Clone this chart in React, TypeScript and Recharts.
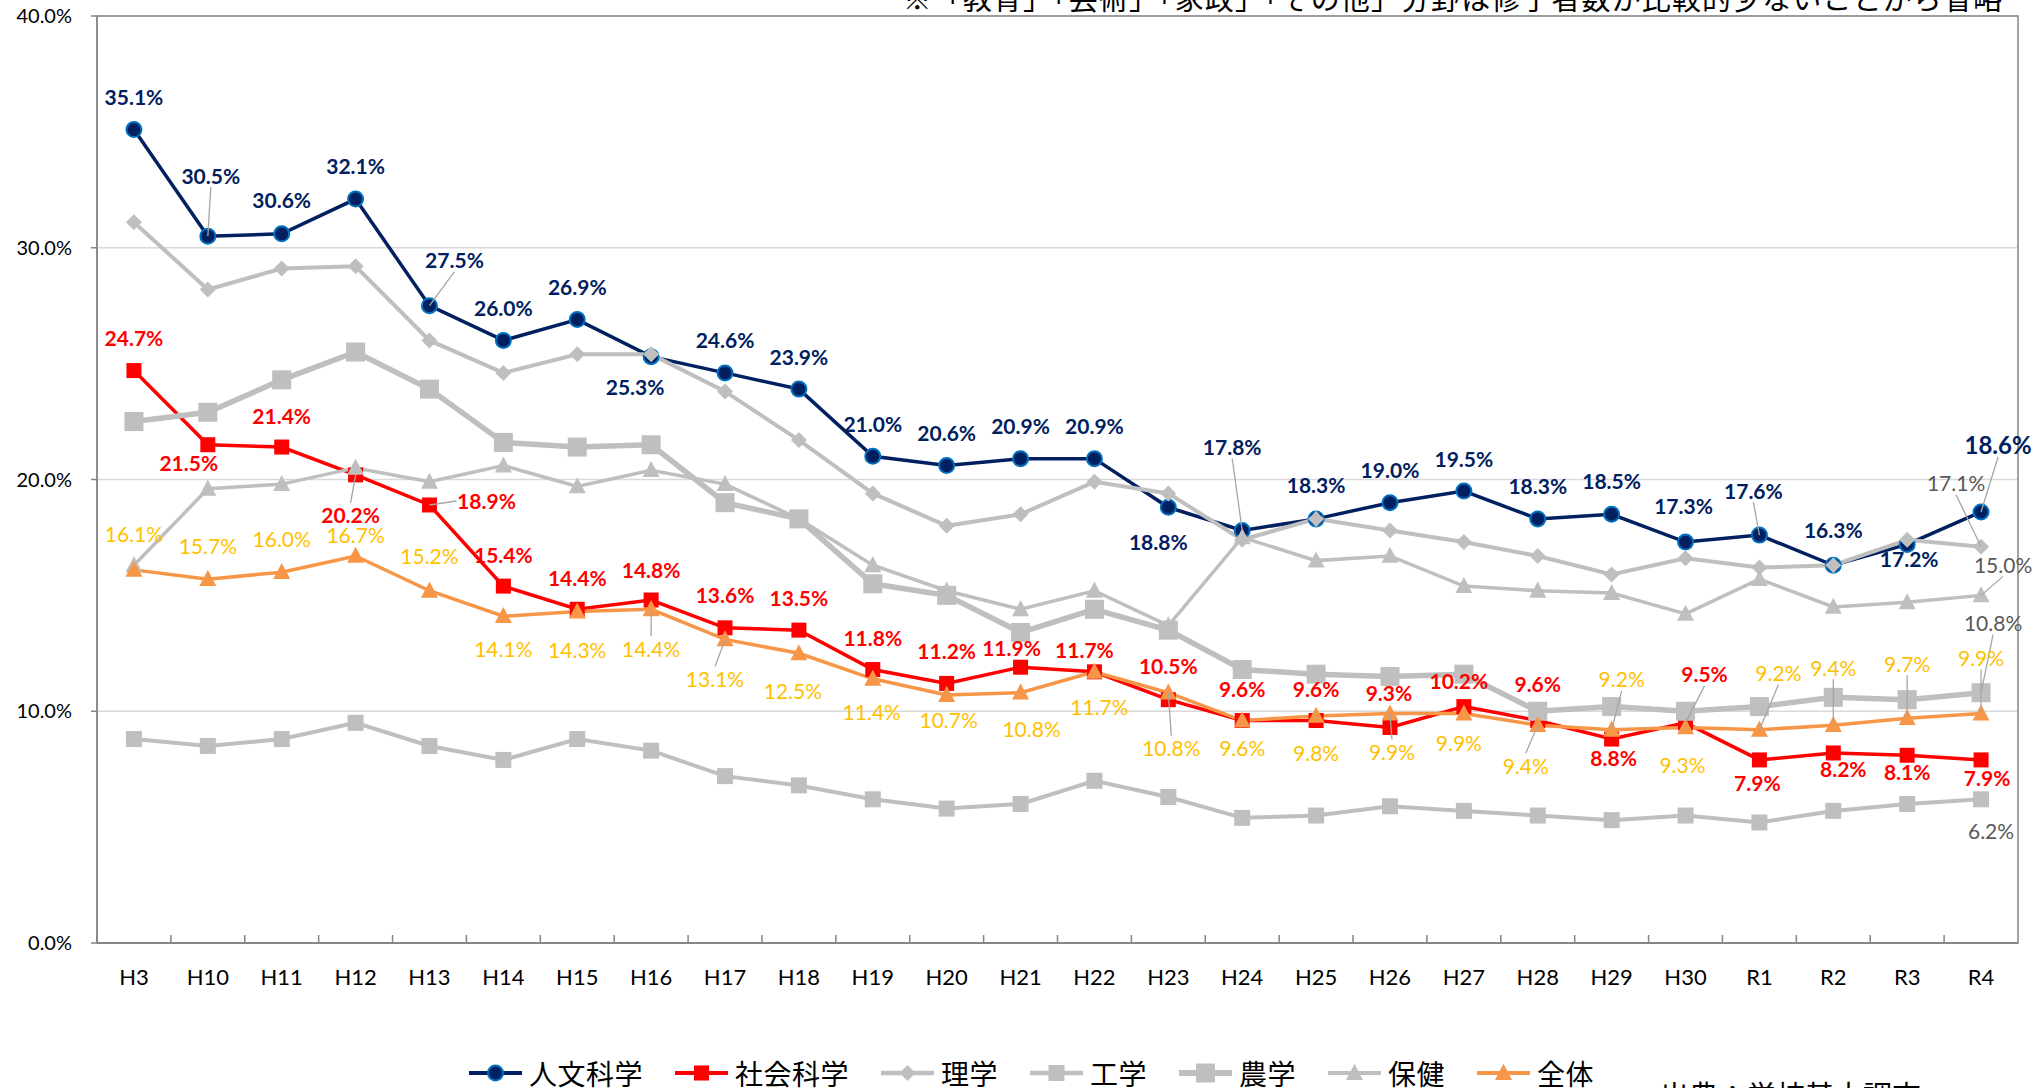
import React from 'react'
import { LineChart, Line, XAxis, YAxis, CartesianGrid, ReferenceArea } from 'recharts'

const years = ['H3', 'H10', 'H11', 'H12', 'H13', 'H14', 'H15', 'H16', 'H17', 'H18', 'H19', 'H20', 'H21', 'H22', 'H23', 'H24', 'H25', 'H26', 'H27', 'H28', 'H29', 'H30', 'R1', 'R2', 'R3', 'R4']

// 進学率 (%)
const humanities = [35.1, 30.5, 30.6, 32.1, 27.5, 26.0, 26.9, 25.3, 24.6, 23.9, 21.0, 20.6, 20.9, 20.9, 18.8, 17.8, 18.3, 19.0, 19.5, 18.3, 18.5, 17.3, 17.6, 16.3, 17.2, 18.6]
const social = [24.7, 21.5, 21.4, 20.2, 18.9, 15.4, 14.4, 14.8, 13.6, 13.5, 11.8, 11.2, 11.9, 11.7, 10.5, 9.6, 9.6, 9.3, 10.2, 9.6, 8.8, 9.5, 7.9, 8.2, 8.1, 7.9]
const science = [31.1, 28.2, 29.1, 29.2, 26.0, 24.6, 25.4, 25.4, 23.8, 21.7, 19.4, 18.0, 18.5, 19.9, 19.4, 17.4, 18.3, 17.8, 17.3, 16.7, 15.9, 16.6, 16.2, 16.3, 17.4, 17.1]
const engineering = [8.8, 8.5, 8.8, 9.5, 8.5, 7.9, 8.8, 8.3, 7.2, 6.8, 6.2, 5.8, 6.0, 7.0, 6.3, 5.4, 5.5, 5.9, 5.7, 5.5, 5.3, 5.5, 5.2, 5.7, 6.0, 6.2]
const agriculture = [22.5, 22.9, 24.3, 25.5, 23.9, 21.6, 21.4, 21.5, 19.0, 18.3, 15.5, 15.0, 13.4, 14.4, 13.5, 11.8, 11.6, 11.5, 11.6, 10.0, 10.2, 10.0, 10.2, 10.6, 10.5, 10.8]
const health = [16.3, 19.6, 19.8, 20.5, 19.9, 20.6, 19.7, 20.4, 19.8, 18.3, 16.3, 15.2, 14.4, 15.2, 13.7, 17.5, 16.5, 16.7, 15.4, 15.2, 15.1, 14.2, 15.7, 14.5, 14.7, 15.0]
const overall = [16.1, 15.7, 16.0, 16.7, 15.2, 14.1, 14.3, 14.4, 13.1, 12.5, 11.4, 10.7, 10.8, 11.7, 10.8, 9.6, 9.8, 9.9, 9.9, 9.4, 9.2, 9.3, 9.2, 9.4, 9.7, 9.9]

const yTicks = [0, 10, 20, 30, 40]

const note = '※「教育」「芸術」「家政」「その他」分野は修了者数が比較的少ないことから省略'
const source = '出典：学校基本調査'

const data = years.map((year, i) => ({
  year,
  hum: humanities[i],
  soc: social[i],
  sci: science[i],
  eng: engineering[i],
  agr: agriculture[i],
  hea: health[i],
  all: overall[i],
}))

// label placement (dx, dy from the point, px) - copied by eye from the excel chart
type Off = [number, number] | null
const humLabelPos: Off[] = [[0, -33], [3, -61], [0, -34], [0, -34], [25, -46], [0, -33], [0, -33], [-16, 30], [0, -33], [0, -33], [0, -33], [0, -33], [0, -33], [0, -33], [-10, 34], [-10, -84], [0, -34], [0, -33], [0, -33], [0, -33], [0, -34], [-2, -37], [-6, -45], [0, -36], [2, 14], [17, -67]]
const socLabelPos: Off[] = [[0, -33], [-19, 18], [0, -32], [-5, 40], [57, -4], [0, -32], [0, -32], [0, -31], [0, -33], [0, -33], [0, -32], [0, -33], [-9, -20], [-10, -22], [0, -34], [0, -32], [0, -32], [-1, -35], [-5, -26], [0, -37], [2, 18], [19, -49], [-2, 23], [10, 16], [0, 16], [6, 18]]
const allLabelPos: Off[] = [[0, -36], [0, -34], [0, -34], [0, -21], [0, -35], [0, 32], [0, 38], [0, 39], [-10, 39], [-6, 37], [-1, 33], [2, 24], [11, 36], [5, 35], [3, 55], [0, 27], [0, 37], [2, 38], [-5, 29], [-12, 40], [10, -51], [-3, 37], [19, -57], [0, -58], [0, -55], [0, -56]]
const lastOnly = (o: [number, number]): Off[] => years.map((_, i) => (i === years.length - 1 ? o : null))

const NUM_FONT = 'Lato, "Liberation Sans", sans-serif'
const JP_FONT = '"Noto Sans CJK JP", sans-serif'
const GREY = '#BFBFBF'
const AXIS = '#868686'

const W = 2044
const H = 1088
const PLOT_LEFT = 97
const PLOT_RIGHT = 2018
const PLOT_TOP = 16
const PLOT_BOTTOM = 943
const BAND = (PLOT_RIGHT - PLOT_LEFT) / years.length

type Shape = 'circle' | 'square' | 'diamond' | 'triangle'

function MarkerShape({ shape, cx, cy, size, fill, stroke }: { shape: Shape; cx: number; cy: number; size: number; fill: string; stroke?: string }) {
  if (shape === 'circle') {
    return <circle cx={cx} cy={cy} r={size / 2} fill={fill} stroke={stroke} strokeWidth={stroke ? 2 : 0} />
  }
  if (shape === 'square') {
    return <rect x={cx - size / 2} y={cy - size / 2} width={size} height={size} fill={fill} />
  }
  if (shape === 'diamond') {
    const s = size / 2
    return <polygon points={`${cx},${cy - s} ${cx + s},${cy} ${cx},${cy + s} ${cx - s},${cy}`} fill={fill} />
  }
  const w = size
  const h = size * 0.9
  return <polygon points={`${cx},${cy - h * 0.6} ${cx + w / 2},${cy + h * 0.45} ${cx - w / 2},${cy + h * 0.45}`} fill={fill} />
}

const marker = (shape: Shape, size: number, fill: string, stroke?: string) => (p: any) => {
  if (p.cx == null || p.cy == null) return <g key={`m-${p.index}`} />
  return <MarkerShape key={`m-${p.index}`} shape={shape} cx={p.cx} cy={p.cy} size={size} fill={fill} stroke={stroke} />
}

// data labels drawn as "dots" of an invisible line so they sit above every series
const labelDot = (offsets: Off[], color: string, weight: number, size: number, lastSize?: number) => (p: any) => {
  const off = offsets[p.index]
  if (!off || p.cx == null || p.cy == null) return <g key={`l-${p.index}`} />
  const [dx, dy] = off
  const lx = p.cx + dx
  const ly = p.cy + dy
  const leader = Math.hypot(dx, dy) > 38
  let x1 = lx
  let y1 = ly + (dy < 0 ? 12 : -12)
  if (Math.abs(dy) < 20) {
    x1 = lx - Math.sign(dx) * 30
    y1 = ly
  }
  const fs = lastSize && p.index === years.length - 1 ? lastSize : size
  return (
    <g key={`l-${p.index}`}>
      {leader && <line x1={x1} y1={y1} x2={p.cx} y2={p.cy} stroke="#A6A6A6" strokeWidth={1.3} />}
      <text x={lx} y={ly} textAnchor="middle" dominantBaseline="central" fill={color} fontWeight={weight} fontSize={fs} fontFamily={NUM_FONT}>
        {Number(p.value).toFixed(1)}%
      </text>
    </g>
  )
}

const XTick = (p: any) => {
  const { x, payload } = p
  return (
    <g>
      <line x1={x - BAND / 2} x2={x - BAND / 2} y1={PLOT_BOTTOM} y2={PLOT_BOTTOM - 8} stroke={AXIS} strokeWidth={1.5} />
      <text x={x} y={985} textAnchor="middle" fontSize={22} fill="#000" fontFamily={NUM_FONT}>
        {payload.value}
      </text>
    </g>
  )
}

const series = [
  { key: 'hum', name: '人文科学', color: '#002060', width: 3.5, shape: 'circle' as Shape, size: 15, fill: '#002060', stroke: '#0070C0' },
  { key: 'soc', name: '社会科学', color: '#FF0000', width: 3.5, shape: 'square' as Shape, size: 15, fill: '#FF0000' },
  { key: 'sci', name: '理学', color: GREY, width: 4, shape: 'diamond' as Shape, size: 16, fill: GREY },
  { key: 'eng', name: '工学', color: GREY, width: 4, shape: 'square' as Shape, size: 16, fill: GREY },
  { key: 'agr', name: '農学', color: GREY, width: 5.5, shape: 'square' as Shape, size: 19, fill: GREY },
  { key: 'hea', name: '保健', color: GREY, width: 3.5, shape: 'triangle' as Shape, size: 17, fill: GREY },
  { key: 'all', name: '全体', color: '#F79646', width: 3.5, shape: 'triangle' as Shape, size: 17, fill: '#F79646' },
]

function LegendRow() {
  return (
    <div style={{ position: 'absolute', left: 469, top: 1054, height: 38, display: 'flex', alignItems: 'center', gap: 32 }}>
      {series.map(s => (
        <div key={s.key} style={{ display: 'flex', alignItems: 'center', gap: 7 }}>
          <svg width={53} height={30}>
            <line x1={0} x2={53} y1={15} y2={15} stroke={s.color} strokeWidth={s.width + 0.5} />
            <MarkerShape shape={s.shape} cx={26.5} cy={15} size={s.size} fill={s.fill} stroke={s.stroke} />
          </svg>
          <span style={{ fontFamily: JP_FONT, fontSize: 28, letterSpacing: 0.5, color: '#000', lineHeight: '38px' }}>{s.name}</span>
        </div>
      ))}
    </div>
  )
}

export default function App() {
  return (
    <div style={{ position: 'absolute', left: 0, top: 0, width: W, height: H, overflow: 'hidden', background: '#fff' }}>
      <LineChart width={W} height={H} data={data} margin={{ top: PLOT_TOP, right: W - PLOT_RIGHT, left: 0, bottom: H - PLOT_BOTTOM - 50 }}>
        <CartesianGrid vertical={false} stroke="#D9D9D9" strokeWidth={1.5} />
        <XAxis
          dataKey="year"
          scale="band"
          interval={0}
          height={50}
          tickLine={false}
          axisLine={{ stroke: AXIS, strokeWidth: 2 }}
          tick={XTick}
        />
        <YAxis
          type="number"
          domain={[0, 40]}
          ticks={yTicks}
          width={PLOT_LEFT}
          tickSize={6}
          tickMargin={19}
          tickFormatter={(v: number) => `${v.toFixed(1)}%`}
          tick={{ fontSize: 20, fill: '#000', fontFamily: NUM_FONT }}
          axisLine={{ stroke: AXIS, strokeWidth: 1.5 }}
          tickLine={{ stroke: AXIS, strokeWidth: 1.5 }}
        />
        <ReferenceArea y1={0} y2={40} fill="none" stroke={AXIS} strokeWidth={1.5} ifOverflow="visible" />

        {series.map(s => (
          <Line
            key={s.key}
            dataKey={s.key}
            name={s.name}
            stroke={s.color}
            strokeWidth={s.width}
            dot={marker(s.shape, s.size, s.fill, s.stroke)}
            activeDot={false}
            isAnimationActive={false}
          />
        ))}

        {/* label layers */}
        <Line dataKey="hum" stroke="none" legendType="none" activeDot={false} isAnimationActive={false} dot={labelDot(humLabelPos, '#002060', 700, 21, 24)} />
        <Line dataKey="soc" stroke="none" legendType="none" activeDot={false} isAnimationActive={false} dot={labelDot(socLabelPos, '#FF0000', 700, 21)} />
        <Line dataKey="sci" stroke="none" legendType="none" activeDot={false} isAnimationActive={false} dot={labelDot(lastOnly([-25, -64]), '#595959', 400, 21)} />
        <Line dataKey="eng" stroke="none" legendType="none" activeDot={false} isAnimationActive={false} dot={labelDot(lastOnly([10, 31]), '#595959', 400, 21)} />
        <Line dataKey="agr" stroke="none" legendType="none" activeDot={false} isAnimationActive={false} dot={labelDot(lastOnly([12, -70]), '#595959', 400, 21)} />
        <Line dataKey="hea" stroke="none" legendType="none" activeDot={false} isAnimationActive={false} dot={labelDot(lastOnly([22, -31]), '#595959', 400, 21)} />
        <Line dataKey="all" stroke="none" legendType="none" activeDot={false} isAnimationActive={false} dot={labelDot(allLabelPos, '#FFC000', 400, 21)} />
      </LineChart>

      <svg width={W} height={H} style={{ position: 'absolute', left: 0, top: 0, pointerEvents: 'none' }}>
        <text x={2003} y={10} textAnchor="end" fontSize={29} letterSpacing={1.1} fontFamily={JP_FONT} fill="#000">{note}</text>
        <text x={1660} y={1107} fontSize={29} fontFamily={JP_FONT} fill="#000">{source}</text>
      </svg>

      <LegendRow />
    </div>
  )
}
